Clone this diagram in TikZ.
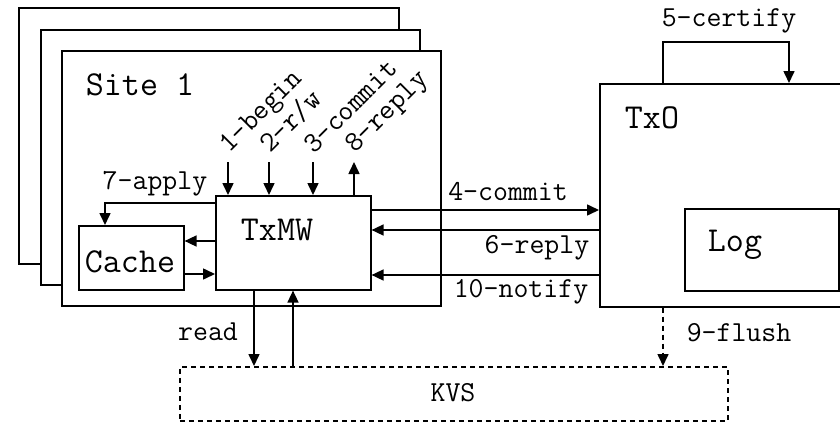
\documentclass[tikz,border=0pt]{standalone}
\usetikzlibrary{arrows.meta}
\begin{document}
\begin{tikzpicture}[x=1pt,y=-1pt,
  font=\ttfamily\fontsize{29}{34}\selectfont,
  box/.style={draw, line width=1.6pt, fill=white, inner sep=0pt, anchor=north west},
  big/.style={font=\ttfamily\fontsize{35}{40}\selectfont, inner sep=0pt},
  lbl/.style={inner sep=0pt},
  arr/.style={line width=1.6pt, -{Triangle[length=12pt,width=11pt]}},
  dsh/.style={dash pattern=on 5pt off 4pt}]
\useasboundingbox (0,0) rectangle (840,423);
% site boxes
\node[box, minimum width=380pt, minimum height=256pt] (site3) at (18,7) {};
\node[box, minimum width=379pt, minimum height=255pt] (site2) at (40,29) {};
\node[box, minimum width=379pt, minimum height=255pt] (site1) at (61,50) {};
\node[big] (sitelbl) at (140,85) {Site 1};
% TxMW and Cache
\node[box, minimum width=155pt, minimum height=94pt] (txmw) at (215,195) {};
\node[big] (txmwlbl) at (277,230) {TxMW};
\node[box, minimum width=105pt, minimum height=64pt] (cache) at (78,225) {};
\node[big] (cachelbl) at (130,262) {Cache};
% TxO and Log
\node[box, minimum width=250pt, minimum height=223pt] (txo) at (599,83) {};
\node[big] (txolbl) at (652,118) {TxO};
\node[box, minimum width=154pt, minimum height=82pt] (log) at (684,208) {};
\node[big] (loglbl) at (735,245) {Log};
% KVS
\node[box, dsh, minimum width=548pt, minimum height=54pt] (kvs) at (179,366) {};
\node[lbl] (kvslbl) at (453,393) {KVS};
% client arrows
\coordinate (b1) at (228,162);
\coordinate (b2) at (269,162);
\coordinate (b3) at (313,162);
\coordinate (b8) at (354,162);
\draw[arr] (b1) -- (b1 |- txmw.north);
\draw[arr] (b2) -- (b2 |- txmw.north);
\draw[arr] (b3) -- (b3 |- txmw.north);
\draw[arr] (b8 |- txmw.north) -- (b8);
\node[lbl, rotate=45, anchor=base west] (l1) at (229,154) {1-begin};
\node[lbl, rotate=45, anchor=base west] (l2) at (270,154) {2-r/w};
\node[lbl, rotate=45, anchor=base west] (l3) at (314,155) {3-commit};
\node[lbl, rotate=45, anchor=base west] (l8) at (355,154) {8-reply};
% apply
\coordinate (ap) at (105,203);
\draw[arr] (txmw.west |- ap) -- (ap) -- (cache.north -| ap);
\node[lbl] (l7) at (155,184) {7-apply};
% TxMW <-> Cache
\coordinate (y1) at (0,241);
\coordinate (y2) at (0,274);
\draw[arr] (txmw.west |- y1) -- (cache.east |- y1);
\draw[arr] (cache.east |- y2) -- (txmw.west |- y2);
% TxMW <-> TxO
\coordinate (y4) at (0,210);
\coordinate (y6) at (0,230);
\coordinate (y10) at (0,275);
\draw[arr] (txmw.east |- y4) -- (txo.west |- y4);
\draw[arr] (txo.west |- y6) -- (txmw.east |- y6);
\draw[arr] (txo.west |- y10) -- (txmw.east |- y10);
\node[lbl] (l4) at (508,192) {4-commit};
\node[lbl] (l6) at (537,248) {6-reply};
\node[lbl] (l10) at (521,292) {10-notify};
% KVS arrows
\coordinate (xr) at (254,0);
\coordinate (xw) at (293,0);
\draw[arr] (txmw.south -| xr) -- (kvs.north -| xr);
\draw[arr] (kvs.north -| xw) -- (txmw.south -| xw);
\node[lbl] (lread) at (208,332) {read};
\coordinate (xf) at (663,0);
\draw[arr, dsh] (txo.south -| xf) -- (kvs.north -| xf);
\node[lbl] (l9) at (739,333) {9-flush};
% certify loop
\coordinate (xc2) at (789,0);
\coordinate (yc) at (0,42);
\draw[arr] (txo.north -| xf) -- (xf |- yc) -- (xc2 |- yc) -- (txo.north -| xc2);
\node[lbl] (l5) at (729,21) {5-certify};
\end{tikzpicture}
\end{document}
